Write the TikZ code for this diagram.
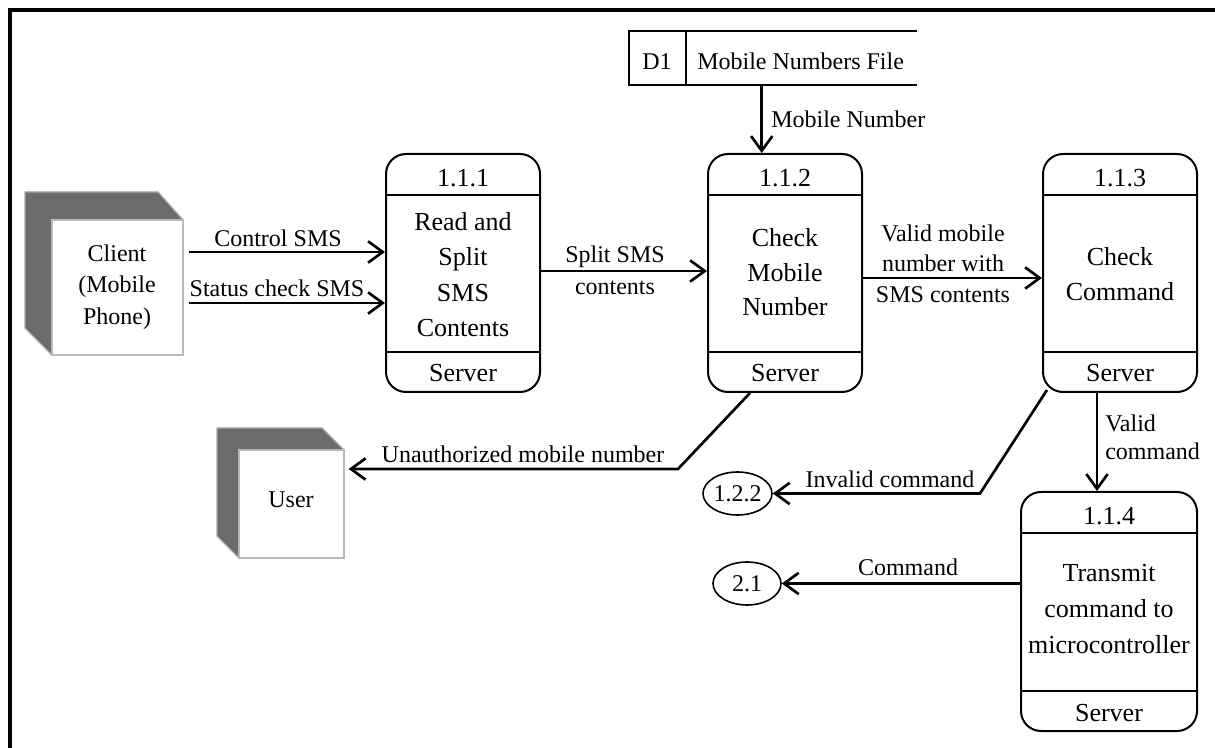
\documentclass[tikz,border=0pt]{standalone}
\usepackage{fontspec}
\setmainfont{Liberation Serif}
\usetikzlibrary{arrows.meta,calc,shapes.geometric}

\newcommand\lblfont{\fontsize{18pt}{22pt}\selectfont}
\newcommand\procfont{\fontsize{19.5pt}{24pt}\selectfont}

\begin{document}
\begin{tikzpicture}[x=0.75pt,y=-0.75pt,
  frame/.style={line width=3pt},
  process/.style={draw, line width=1.5pt, rounded corners=15pt, fill=white,
    minimum width=115.5pt, minimum height=178.5pt, inner sep=0pt},
  divider/.style={line width=1.5pt},
  flow/.style={line width=2pt, -{Straight Barb[length=11pt,width=16pt]}},
  lbl/.style={font=\lblfont, inner sep=0pt, anchor=base},
  ptxt/.style={font=\procfont, inner sep=0pt, anchor=base},
  face/.style={fill=white, draw=gray!55, line width=1pt, inner sep=0pt},
  shade/.style={fill=black!58, draw=gray!70, line width=1pt, line join=round},
  ext/.style={draw, ellipse, line width=1.2pt, inner sep=0pt, font=\lblfont},
]
\useasboundingbox (0,0) rectangle (1215,748);

% outer frame (top and left edges)
\draw[frame] (10,748) -- (10,10) -- (1215,10);

% external entity: client
\draw[shade] (25,192) -- (158,192) -- (183,220) -- (52,220) -- (52,355) -- (25,328) -- cycle;
\node[face, minimum width=98.25pt, minimum height=101.25pt] (client) at (117.5,287.5) {};
\node[lbl] (clientA) at (117,262) {Client};
\node[lbl] (clientB) at (117,293) {(Mobile};
\node[lbl] (clientC) at (117,325) {Phone)};

% external entity: user
\draw[shade] (217,428) -- (322,428) -- (344,450) -- (239,450) -- (239,558) -- (217,536) -- cycle;
\node[face, minimum width=78.75pt, minimum height=81pt] (user) at (291.5,504) {};
\node[lbl] (userT) at (291,508) {User};

% processes
\node[process] (p1) at (463,273) {};
\node[process] (p2) at (785,273) {};
\node[process] (p3) at (1120,273) {};
\node[process, minimum width=132pt, minimum height=179.25pt] (p4) at (1109,611.5) {};
\foreach \p in {p1,p2,p3,p4} {
  \draw[divider] ($(\p.north west)+(0,42)$) -- ($(\p.north east)+(0,42)$);
  \draw[divider] ($(\p.south west)+(0,-41)$) -- ($(\p.south east)+(0,-41)$);
}

\node[ptxt] (p1id) at (463,187) {1.1.1};
\node[ptxt] (p1a) at (463,231) {Read and};
\node[ptxt] (p1b) at (463,266) {Split};
\node[ptxt] (p1c) at (463,302) {SMS};
\node[ptxt] (p1d) at (463,337) {Contents};
\node[ptxt] (p1s) at (463,382) {Server};

\node[ptxt] (p2id) at (785,187) {1.1.2};
\node[ptxt] (p2a) at (785,247) {Check};
\node[ptxt] (p2b) at (785,282) {Mobile};
\node[ptxt] (p2c) at (785,316) {Number};
\node[ptxt] (p2s) at (785,382) {Server};

\node[ptxt] (p3id) at (1120,187) {1.1.3};
\node[ptxt] (p3a) at (1120,266) {Check};
\node[ptxt] (p3b) at (1120,301) {Command};
\node[ptxt] (p3s) at (1120,382) {Server};

\node[ptxt] (p4id) at (1109,525) {1.1.4};
\node[ptxt] (p4a) at (1109,582) {Transmit};
\node[ptxt] (p4b) at (1109,618) {command to};
\node[ptxt] (p4c) at (1109,653) {microcontroller};
\node[ptxt] (p4s) at (1109,721) {Server};

% data store D1
\node[minimum width=216pt, minimum height=40.5pt, inner sep=0pt] (store) at (773,58) {};
\draw[line width=1.5pt] (store.north east) -- (store.north west) -- (store.south west) -- (store.south east);
\draw[line width=1.5pt] ($(store.north west)+(57,0)$) -- ($(store.south west)+(57,0)$);
\node[lbl] (d1id) at (657,70) {D1};
\node[lbl, anchor=base west] (d1name) at (697,70) {Mobile Numbers File};

% off-page references
\node[ext, minimum width=51.75pt, minimum height=32.25pt] (e122) at (737.5,493.5) {1.2.2};
\node[ext, minimum width=51pt, minimum height=32.25pt] (e21) at (747,583.5) {2.1};

% data flows
\coordinate (cs1) at ([shift={(5,-35.5)}]client.east);
\coordinate (cs2) at ([shift={(5,15.5)}]client.east);
\draw[flow] (cs1) -- (cs1 -| p1.west);
\draw[flow] (cs2) -- (cs2 -| p1.west);

\draw[flow] ([yshift=1.5pt]p1.east) -- ([yshift=1.5pt]p2.west);
\draw[flow] ([yshift=-3.75pt]p2.east) -- ([yshift=-3.75pt]p3.west);

\coordinate (ms) at ($(store.south west)+(133,0)$);
\draw[flow] (ms) -- (ms |- p2.north);

\coordinate (ua) at ([xshift=-26.25pt]p2.south);
\coordinate (ub) at (678,469);
\draw[flow, shorten >=3pt] (ua) -- (ub) -- (ub -| user.east);

\coordinate (ia) at ([shift={(5,-3)}]p3.south west);
\coordinate (ib) at (980,493.5);
\draw[flow] (ia) -- (ib) -- (e122.east);

\coordinate (vc) at ([xshift=-17.25pt]p3.south);
\draw[flow] (vc) -- (vc |- p4.north);

\draw[flow] (p4.west |- e21.east) -- (e21.east);

% flow labels
\node[lbl] (lcs) at (278,247) {Control SMS};
\node[lbl] (lsc) at (277,297) {Status check SMS};
\node[lbl] (lsp1) at (615,263) {Split SMS};
\node[lbl] (lsp2) at (615,295) {contents};
\node[lbl, anchor=base west] (lmn) at (771,128) {Mobile Number};
\node[lbl] (lv1) at (943,242) {Valid mobile};
\node[lbl] (lv2) at (943,272) {number with};
\node[lbl] (lv3) at (943,303) {SMS contents};
\node[lbl] (lun) at (523,463) {Unauthorized mobile number};
\node[lbl] (lic) at (890,488) {Invalid command};
\node[lbl, anchor=base west] (lvc1) at (1105,432) {Valid};
\node[lbl, anchor=base west] (lvc2) at (1105,460) {command};
\node[lbl] (lcm) at (908,576) {Command};
\end{tikzpicture}
\end{document}
